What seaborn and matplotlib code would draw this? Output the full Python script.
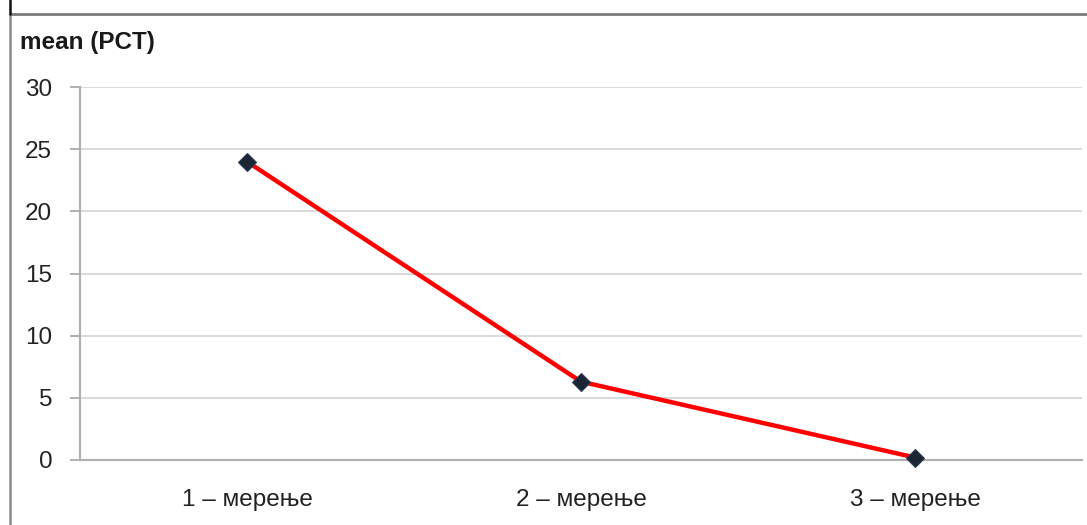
import matplotlib
matplotlib.use("Agg")
import matplotlib.pyplot as plt
from matplotlib.lines import Line2D
import seaborn as sns
import pandas as pd

categories = ["1 – мерење", "2 – мерење", "3 – мерење"]
values = [24.0, 6.3, 0.2]
yticks = [0, 5, 10, 15, 20, 25, 30]
ylabel = "mean (PCT)"

sns.set_theme(style="white")
plt.rcParams['font.family'] = ['Liberation Sans', 'DejaVu Sans']

df = pd.DataFrame({"cat": categories, "val": values})

fig = plt.figure(figsize=(10.87, 5.25), dpi=100)
ax = fig.add_axes([80/1087, 1 - 460/525, (1082 - 80)/1087, (460 - 87)/525])

sns.lineplot(data=df, x="cat", y="val", ax=ax, color="#ff0000", linewidth=3.2,
             marker="D", markersize=9, markerfacecolor="#1c2533",
             markeredgecolor="#2a3a55", markeredgewidth=0.8, sort=False)
for ln in ax.lines:
    ln.set_clip_on(False)
    ln.set_zorder(5)

ax.set_xlim(-0.5, len(categories) - 0.5)
ax.set_ylim(0, 30)
ax.set_yticks(yticks)
ax.set_xticks(range(len(categories)))
ax.set_xticklabels(categories)
ax.set_xlabel("")
ax.set_ylabel("")

ax.yaxis.grid(True, color="#d9d9d9", linewidth=1.4)
ax.xaxis.grid(False)
ax.set_axisbelow(True)

for s in ["top", "right"]:
    ax.spines[s].set_visible(False)
for s in ["left", "bottom"]:
    ax.spines[s].set_color("#b0b0b0")
    ax.spines[s].set_linewidth(1.6)

ax.set_xticks([i - 0.5 for i in range(len(categories) + 1)], minor=True)
ax.tick_params(axis="x", which="major", length=0, pad=21, labelsize=17.5, colors="#222222")
ax.tick_params(axis="x", which="minor", length=5, width=1.4, color="#b0b0b0", direction="out")
ax.tick_params(axis="y", which="major", length=7, width=1.4, color="#b0b0b0", direction="out",
               pad=13, labelsize=17.5, labelcolor="#222222", left=True)

fig.text(20/1087, 1 - 42/525, ylabel, fontsize=17.5, fontweight="bold", color="#1a1a1a",
         ha="left", va="center")

# frame lines
fig.add_artist(Line2D([10/1087, 1], [1 - 13.5/525, 1 - 13.5/525], transform=fig.transFigure,
                      color="#7a7a7a", linewidth=2))
fig.add_artist(Line2D([10/1087, 10/1087], [0, 1 - 13.5/525], transform=fig.transFigure,
                      color="#8a8a8a", linewidth=1.8))
fig.add_artist(Line2D([10/1087, 10/1087], [1 - 13.5/525, 1], transform=fig.transFigure,
                      color="#111111", linewidth=1.8))

fig.savefig("out.png", dpi=100)
